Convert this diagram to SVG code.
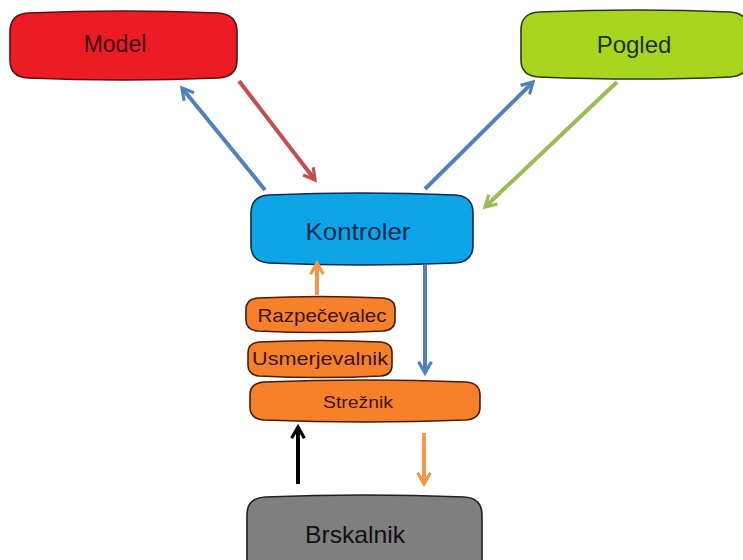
<svg xmlns="http://www.w3.org/2000/svg" width="743" height="560" viewBox="0 0 743 560">
<style>
.sh{stroke-width:1.6}
.t{font-family:"Liberation Sans",Arial,sans-serif;text-anchor:middle}
.c{fill:none;stroke-width:4;stroke-linecap:butt}
</style>
<defs>
<marker id="hBlue" viewBox="0 0 10 10" refX="8" refY="5" markerWidth="4" markerHeight="4" orient="auto" markerUnits="strokeWidth"><path d="M1,1 L8,5 L1,9" fill="none" stroke="#4f81bd" stroke-width="2"/></marker>
<marker id="hRed" viewBox="0 0 10 10" refX="8" refY="5" markerWidth="4" markerHeight="4" orient="auto" markerUnits="strokeWidth"><path d="M1,1 L8,5 L1,9" fill="none" stroke="#c0504d" stroke-width="2"/></marker>
<marker id="hGreen" viewBox="0 0 10 10" refX="8" refY="5" markerWidth="4" markerHeight="4" orient="auto" markerUnits="strokeWidth"><path d="M1,1 L8,5 L1,9" fill="none" stroke="#9bbb59" stroke-width="2"/></marker>
<marker id="hOrange" viewBox="0 0 10 10" refX="8" refY="5" markerWidth="4" markerHeight="4" orient="auto" markerUnits="strokeWidth"><path d="M1,1 L8,5 L1,9" fill="none" stroke="#f79646" stroke-width="2"/></marker>
<marker id="hBlack" viewBox="0 0 10 10" refX="8" refY="5" markerWidth="4" markerHeight="4" orient="auto" markerUnits="strokeWidth"><path d="M1,1 L8,5 L1,9" fill="none" stroke="#000" stroke-width="2"/></marker>
</defs>
<rect width="743" height="560" fill="#fff"/>
<g id="model">
<path class="sh" d="M28,13 Q123,9 218,13 Q237,14 237,32 L237,60 Q237,77 218,78 Q123,82 28,78 Q10,77 10,60 L10,32 Q10,14 28,13 Z" fill="#ed1c24" stroke="#5a1010"/>
<text class="t" x="115" y="52" font-size="23" fill="#3a0808">Model</text>
</g>
<g id="pogled">
<path class="sh" d="M539,12 Q640,8 730,12 Q748,13 748,30 L748,60 Q748,76 730,77 Q640,81 539,77 Q521,76 521,60 L521,30 Q521,13 539,12 Z" fill="#a8d61e" stroke="#2d3a10"/>
<text class="t" x="634" y="53" font-size="24" fill="#1f3010">Pogled</text>
</g>
<g id="kontroler">
<path class="sh" d="M269,195 Q362,191 455,195 Q473,196 473,213 L473,245 Q473,262 455,263 Q362,267 269,263 Q251,262 251,245 L251,213 Q251,196 269,195 Z" fill="#0ea5e8" stroke="#0a2a50"/>
<text class="t" x="358" y="240" font-size="24" fill="#0a2a50" textLength="105" lengthAdjust="spacingAndGlyphs">Kontroler</text>
</g>
<g id="razpecevalec">
<path class="sh" d="M258,298 Q320,295 383,298 Q395,299 395,309 L395,320 Q395,330 383,331 Q320,334 258,331 Q246,330 246,320 L246,309 Q246,299 258,298 Z" fill="#f7812a" stroke="#4a1c08"/>
<text class="t" x="322" y="322" font-size="19" fill="#3a1408" textLength="129" lengthAdjust="spacingAndGlyphs">Razpečevalec</text>
</g>
<g id="usmerjevalnik">
<path class="sh" d="M259,342 Q320,339 381,342 Q392,343 392,353 L392,365 Q392,375 381,376 Q320,379 259,376 Q248,375 248,365 L248,353 Q248,343 259,342 Z" fill="#f7812a" stroke="#4a1c08"/>
<text class="t" x="320" y="365" font-size="19" fill="#3a1408" textLength="136" lengthAdjust="spacingAndGlyphs">Usmerjevalnik</text>
</g>
<g id="streznik">
<path class="sh" d="M264,382 Q365,378 466,382 Q480,383 480,395 L480,407 Q480,419 466,420 Q365,424 264,420 Q250,419 250,407 L250,395 Q250,383 264,382 Z" fill="#f7812a" stroke="#4a1c08"/>
<text class="t" x="358" y="408" font-size="16" fill="#3a1408" textLength="70" lengthAdjust="spacingAndGlyphs">Strežnik</text>
</g>
<g id="brskalnik">
<path class="sh" d="M265,497 Q365,493 464,497 Q482,498 482,515 L482,566 L247,566 L247,515 Q247,498 265,497 Z" fill="#7f7f7f" stroke="#202020"/>
<text class="t" x="355" y="543" font-size="24" fill="#111" textLength="100" lengthAdjust="spacingAndGlyphs">Brskalnik</text>
</g>
<g id="connectors">
<line class="c" x1="265" y1="190" x2="182" y2="88" stroke="#4f81bd" marker-end="url(#hBlue)"/>
<line class="c" x1="239" y1="81" x2="315" y2="180" stroke="#c0504d" marker-end="url(#hRed)"/>
<line class="c" x1="425" y1="189" x2="533" y2="82" stroke="#4f81bd" marker-end="url(#hBlue)"/>
<line class="c" x1="617" y1="82" x2="485" y2="207" stroke="#9bbb59" marker-end="url(#hGreen)"/>
<line class="c" x1="317" y1="295" x2="317" y2="263" stroke="#f79646" marker-end="url(#hOrange)"/>
<line class="c" x1="425" y1="265" x2="425" y2="373" stroke="#4f81bd" marker-end="url(#hBlue)"/>
<line class="c" x1="298" y1="484" x2="298" y2="427" stroke="#000" marker-end="url(#hBlack)"/>
<line class="c" x1="424" y1="433" x2="424" y2="484" stroke="#f79646" marker-end="url(#hOrange)"/>
</g>
</svg>
